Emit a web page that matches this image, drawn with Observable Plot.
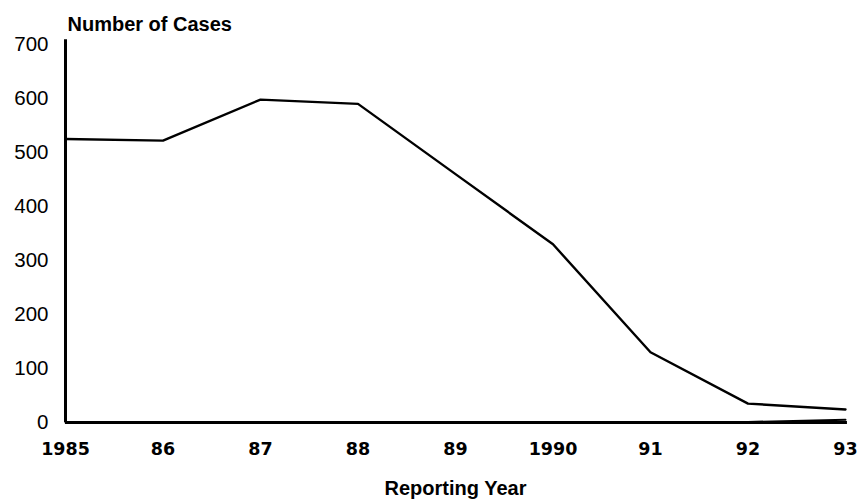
<!DOCTYPE html>
<html>
<head>
<meta charset="utf-8">
<script src="https://cdn.jsdelivr.net/npm/d3@7"></script>
<script src="https://cdn.jsdelivr.net/npm/@observablehq/plot@0.6"></script>
<style>
  body { margin: 0; background: #fff; }
  #chart svg { display: block; }
</style>
</head>
<body>
<div id="chart"></div>
<script>
const years = [1985, 1986, 1987, 1988, 1989, 1990, 1991, 1992, 1993];
const cases = [525, 522, 598, 590, 460, 330, 130, 35, 24];
const lowSeries = [0, 0, 0, 0, 0, 0, 0, 1, 5];
const yTicks = [0, 100, 200, 300, 400, 500, 600, 700];
const xTickLabels = ["1985", "86", "87", "88", "89", "1990", "91", "92", "93"];
const titleText = "Number of Cases";
const xLabelText = "Reporting Year";

const mainData = years.map((y, i) => ({year: y, value: cases[i]}));
const lowData = years.map((y, i) => ({year: y, value: lowSeries[i]}));

const chart = Plot.plot({
  width: 867,
  height: 499,
  marginTop: 44,
  marginBottom: 77,
  marginLeft: 65,
  marginRight: 22,
  style: {background: "#fff", color: "#000"},
  x: {domain: [1985, 1993], label: null},
  y: {domain: [0, 700], label: null},
  marks: [
    Plot.axisY({
      ticks: yTicks, tickSize: 0, tickPadding: 17,
      fontSize: 20.5, fontFamily: "Liberation Sans, Arial, sans-serif",
      label: null
    }),
    Plot.axisX({
      ticks: years, tickSize: 0, tickPadding: 20,
      tickFormat: (d) => xTickLabels[years.indexOf(d)],
      fontSize: 17.5, fontWeight: "bold", fontFamily: "DejaVu Sans, sans-serif",
      label: null
    }),
    Plot.ruleX([1985], {y1: 0, y2: 709, stroke: "#000", strokeWidth: 3}),
    Plot.ruleY([0], {x1: 1985, x2: 1993.02, stroke: "#000", strokeWidth: 3}),
    Plot.line(lowData, {x: "year", y: "value", stroke: "#000", strokeWidth: 2}),
    Plot.line(mainData, {x: "year", y: "value", stroke: "#000", strokeWidth: 2.4}),
    Plot.text([titleText], {
      frameAnchor: "top-left", dx: 2, dy: -14,
      textAnchor: "start", lineAnchor: "bottom",
      fontSize: 20, fontWeight: "bold", letterSpacing: -0.5,
      fontFamily: "Liberation Sans, Arial, sans-serif"
    }),
    Plot.text([xLabelText], {
      frameAnchor: "bottom", dy: 72,
      lineAnchor: "bottom",
      fontSize: 20, fontWeight: "bold", letterSpacing: -0.4,
      fontFamily: "Liberation Sans, Arial, sans-serif"
    })
  ]
});
document.getElementById("chart").appendChild(chart);
</script>
</body>
</html>
